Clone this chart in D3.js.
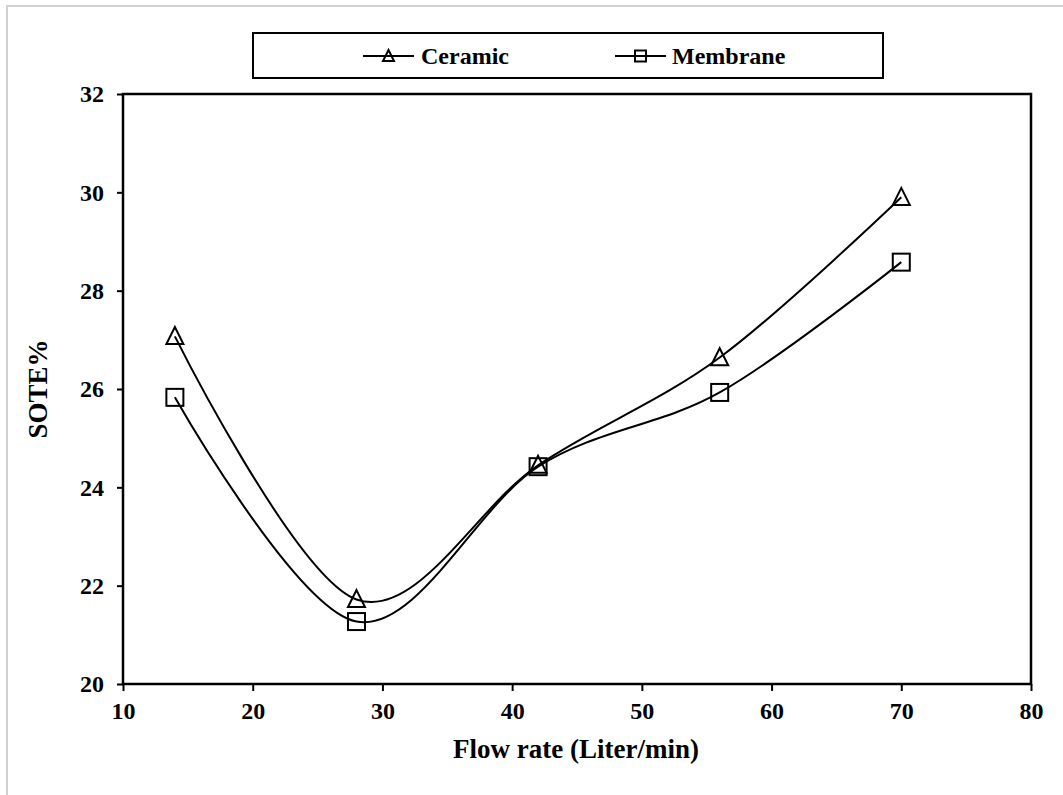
<!DOCTYPE html>
<html>
<head>
<meta charset="utf-8">
<script src="https://cdn.jsdelivr.net/npm/d3@7"></script>
<style>
  html, body { margin: 0; padding: 0; background: #fff; }
  svg { display: block; }
  text { font-family: "Liberation Serif", "Times New Roman", serif; font-weight: bold; fill: #000; }
</style>
</head>
<body>
<svg id="chart" width="1063" height="795"></svg>
<script>
// ---- data ----
const flowRates = [14, 28, 42, 56, 70];
const ceramic   = [27.07, 21.72, 24.45, 26.64, 29.9];
const membrane  = [25.83, 21.27, 24.42, 25.93, 28.58];
const seriesNames = ["Ceramic", "Membrane"];
const xTicks = [10, 20, 30, 40, 50, 60, 70, 80];
const yTicks = [20, 22, 24, 26, 28, 30, 32];
const xTitle = "Flow rate (Liter/min)";
const yTitle = "SOTE%";

const svg = d3.select("#chart");

// outer light frame
svg.append("rect")
  .attr("x", 7).attr("y", 6).attr("width", 1070).attr("height", 800)
  .attr("fill", "none").attr("stroke", "#d0d0d0").attr("stroke-width", 2);

const plot = { left: 123, right: 1031, top: 94, bottom: 684 };
const x = d3.scaleLinear().domain([10, 80]).range([plot.left, plot.right]);
const y = d3.scaleLinear().domain([20, 32]).range([plot.bottom, plot.top]);

// axes
const xAxis = d3.axisBottom(x).tickValues(xTicks).tickSize(7).tickPadding(11).tickFormat(d3.format("d"));
const yAxis = d3.axisLeft(y).tickValues(yTicks).tickSize(6).tickPadding(13).tickFormat(d3.format("d"));

const gx = svg.append("g").attr("transform", `translate(0,${plot.bottom})`).call(xAxis);
const gy = svg.append("g").attr("transform", `translate(${plot.left},0)`).call(yAxis);
[gx, gy].forEach(g => {
  g.select(".domain").remove();
  g.selectAll(".tick line").attr("stroke", "#000").attr("stroke-width", 2);
  g.selectAll(".tick text").style("font-size", "24px").style("font-family", "'Liberation Serif', serif").style("font-weight", "bold").attr("fill", "#000");
});
gy.selectAll(".tick text").attr("dy", "0.33em");
gx.selectAll(".tick text").attr("dy", "0.71em");

// plot frame
svg.append("rect")
  .attr("x", plot.left).attr("y", plot.top)
  .attr("width", plot.right - plot.left).attr("height", plot.bottom - plot.top)
  .attr("fill", "none").attr("stroke", "#000").attr("stroke-width", 2.5);

// titles
svg.append("text")
  .attr("x", (plot.left + plot.right) / 2 - 1).attr("y", 758)
  .attr("text-anchor", "middle").style("font-size", "27px")
  .text(xTitle);
svg.append("text")
  .attr("transform", `translate(47,${(plot.top + plot.bottom) / 2}) rotate(-90)`)
  .attr("text-anchor", "middle").style("font-size", "27px")
  .text(yTitle);

// series
const line = d3.line().x(d => x(d[0])).y(d => y(d[1])).curve(d3.curveCardinal.tension(0));
const data = [
  flowRates.map((f, i) => [f, ceramic[i]]),
  flowRates.map((f, i) => [f, membrane[i]])
];
const symbols = [d3.symbolTriangle, d3.symbolSquare];

data.forEach((pts, si) => {
  svg.append("path").datum(pts)
    .attr("d", line).attr("fill", "none").attr("stroke", "#000").attr("stroke-width", 2);
});

function marker(g, type, cx, cy, size) {
  if (type === 0) {
    const h = size, w = size;
    const pts = [[cx, cy - h * 0.55], [cx + w / 2, cy + h * 0.45], [cx - w / 2, cy + h * 0.45]];
    g.append("path").attr("d", "M" + pts.map(p => p.join(",")).join("L") + "Z")
      .attr("fill", "none").attr("stroke", "#000").attr("stroke-width", 2);
  } else {
    g.append("rect").attr("x", cx - size / 2).attr("y", cy - size / 2)
      .attr("width", size).attr("height", size)
      .attr("fill", "none").attr("stroke", "#000").attr("stroke-width", 2);
  }
}

data.forEach((pts, si) => {
  const g = svg.append("g");
  pts.forEach(p => marker(g, si, x(p[0]), y(p[1]), 17));
});

// legend
svg.append("rect")
  .attr("x", 253).attr("y", 33).attr("width", 630).attr("height", 45)
  .attr("fill", "#fff").attr("stroke", "#000").attr("stroke-width", 2);

const legendItems = [
  { x0: 363, x1: 414, tx: 421 },
  { x0: 615, x1: 666, tx: 672 }
];
const ly = 56;
legendItems.forEach((it, i) => {
  const g = svg.append("g");
  g.append("line").attr("x1", it.x0).attr("x2", it.x1).attr("y1", ly).attr("y2", ly)
    .attr("stroke", "#000").attr("stroke-width", 2);
  marker(g, i, (it.x0 + it.x1) / 2, ly, 11);
  g.append("text").attr("x", it.tx).attr("y", ly + 8).style("font-size", "24px").text(seriesNames[i]);
});
</script>
</body>
</html>
